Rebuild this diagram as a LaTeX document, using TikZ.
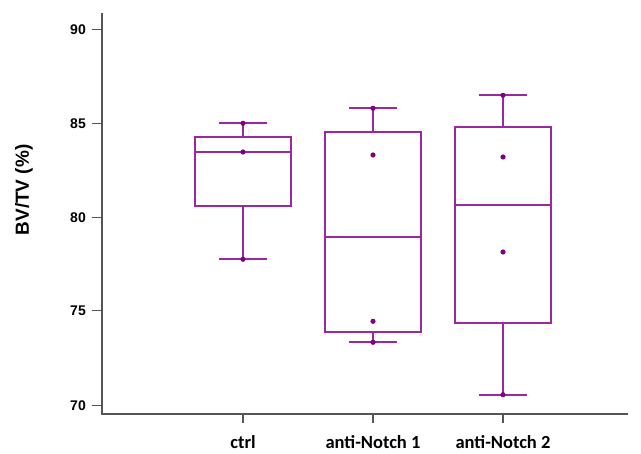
\documentclass[tikz,border=0pt]{standalone}
\usepackage{fontspec}
\setmainfont{Liberation Sans}
\newfontfamily\calfont{Carlito}
\definecolor{boxc}{RGB}{155,40,160}
\definecolor{dotc}{RGB}{128,0,128}
\definecolor{axc}{RGB}{85,85,85}
\begin{document}
\begin{tikzpicture}[x=1pt,y=-1pt,
  axis/.style={draw=axc,line width=1.6pt},
  bx/.style={draw=boxc,line width=1.9pt},
  pt/.style={fill=dotc,draw=none},
  ticklab/.style={anchor=east,font=\bfseries\fontsize{14}{14}\selectfont,inner sep=0pt},
  catlab/.style={anchor=base,font=\calfont\bfseries\fontsize{18.5}{18.5}\selectfont,inner sep=0pt}]
\useasboundingbox (0,0) rectangle (641,454);
% axes
\coordinate (ytop) at (102,13);
\coordinate (orig) at (102,414);
\coordinate (xend) at (628,414);
\draw[axis] (ytop) -- (orig) -- (xend);
\foreach \v/\y in {90/29.5,85/123.5,80/217.5,75/310.5,70/405.5}{
  \coordinate (t\v) at (102,\y);
  \draw[axis] (t\v) -- ++(-10,0);
  \node[ticklab] (l\v) at (86,\y) {\v};
}
\foreach \n/\x in {a/243,b/373,c/503}{
  \coordinate (c\n) at (\x,414);
  \draw[axis] (c\n) -- ++(0,9);
}
\node[catlab] (la) at (243,449) {ctrl};
\node[catlab] (lb) at (373,449) {anti-Notch 1};
\node[catlab] (lc) at (503,449) {anti-Notch 2};
\node[rotate=90,font=\bfseries\fontsize{19}{19}\selectfont,inner sep=0pt] (ylab) at (24,190) {BV/TV (\%)};
% box plots: x center, whisker top, q3, median, q1, whisker bottom
\foreach \n/\x/\wt/\qt/\md/\qb/\wb in {a/243/123.3/137.3/152/206/259.3, b/373/108.3/131.7/237.3/331.7/342.3, c/503/95.3/126.7/204.7/322.7/394.7}{
  \draw[bx] (\x-48,\qt) rectangle (\x+48,\qb);
  \draw[bx] (\x-48,\md) -- (\x+48,\md);
  \draw[bx] (\x,\qt) -- (\x,\wt);
  \draw[bx] (\x,\qb) -- (\x,\wb);
  \draw[bx] (\x-24,\wt) -- (\x+24,\wt);
  \draw[bx] (\x-24,\wb) -- (\x+24,\wb);
  \fill[pt] (\x,\wt) circle (2.6);
  \fill[pt] (\x,\wb) circle (2.6);
}
\fill[pt] (243,152) circle (2.6);
\fill[pt] (373,155) circle (2.6);
\fill[pt] (373,321.3) circle (2.6);
\fill[pt] (503,157) circle (2.6);
\fill[pt] (503,252) circle (2.6);
\end{tikzpicture}
\end{document}
